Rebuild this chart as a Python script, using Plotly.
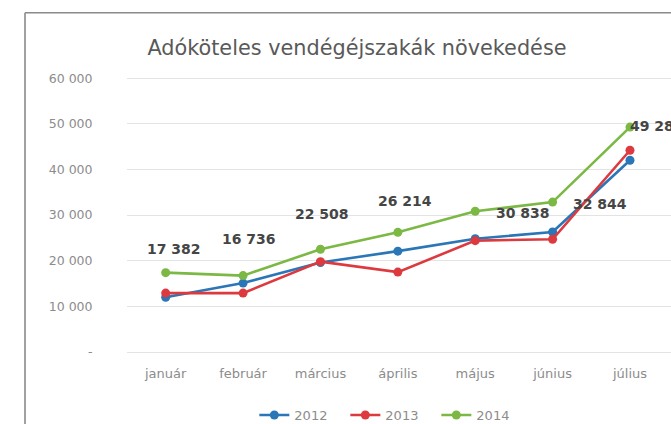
import plotly.graph_objects as go

months = ["január", "február", "március", "április", "május", "június", "július"]
y2012 = [12000, 15100, 19600, 22100, 24800, 26300, 42000]
y2013 = [12900, 12900, 19800, 17500, 24400, 24700, 44200]
y2014 = [17382, 16736, 22508, 26214, 30838, 32844, 49280]
ytick_vals = [0, 10000, 20000, 30000, 40000, 50000, 60000]
ytick_text = ["-", "10 000", "20 000", "30 000", "40 000", "50 000", "60 000"]
title_text = "Adóköteles vendégéjszakák növekedése"

# label placement styles for the 2014 data labels (pixel shifts)
lbl_xshift = [8, 6, 2, 7, 48, 47]
lbl_yshift = [24, 37, 35, 31, -2, -2]

FONT = "DejaVu Sans"
colors = {"2012": "#2a76b6", "2013": "#dc3a3e", "2014": "#7bb844"}


def fmt(v):
    return f"{v:,}".replace(",", " ")


fig = go.Figure()
for name, vals in [("2012", y2012), ("2013", y2013), ("2014", y2014)]:
    fig.add_trace(go.Scatter(
        x=months, y=vals, name=name, mode="lines+markers",
        line=dict(color=colors[name], width=2.6),
        marker=dict(color=colors[name], size=9, symbol="circle"),
    ))

# first six labels as annotations
for i, (m, v) in enumerate(zip(months[:-1], y2014[:-1])):
    fig.add_annotation(
        x=m, y=v, text=f"<b>{fmt(v)}</b>", showarrow=False,
        xanchor="center", yanchor="middle",
        xshift=lbl_xshift[i], yshift=lbl_yshift[i],
        font=dict(family=FONT, size=14, color="#454545"),
    )
# last label: text trace, clipped by the plot area like in the cropped original
fig.add_trace(go.Scatter(
    x=months[-1:], y=y2014[-1:], mode="text", text=[f"<b>{fmt(y2014[-1])}</b>"],
    textposition="middle right", cliponaxis=True, showlegend=False, hoverinfo="skip",
    textfont=dict(family=FONT, size=14, color="#454545"),
))

# outer chart frame
fig.add_shape(type="line", xref="paper", yref="paper",
              x0=-0.1875, x1=-0.1875, y0=-0.35, y1=1.2336,
              line=dict(color="#8a8a8a", width=1.6))
fig.add_shape(type="line", xref="paper", yref="paper",
              x0=-0.1875, x1=1.05, y0=1.2336, y1=1.2336,
              line=dict(color="#8a8a8a", width=1.6))

fig.update_layout(
    width=671, height=424,
    margin=dict(l=127, r=0, t=77, b=72, autoexpand=False),
    paper_bgcolor="white", plot_bgcolor="white",
    title=dict(text=title_text, x=0.532, xref="container", xanchor="center",
               y=1 - 48 / 424, yref="container", yanchor="middle",
               font=dict(family=FONT, size=20.8, color="#595959")),
    showlegend=True,
    legend=dict(orientation="h", x=0.485, xanchor="center",
                y=1 - 415 / 424, yref="container", yanchor="middle",
                entrywidth=46, entrywidthmode="pixels",
                font=dict(family=FONT, size=13, color="#8c8c8c"),
                bgcolor="rgba(0,0,0,0)"),
    xaxis=dict(type="category", range=[-0.5, 6.53], showgrid=False, showline=False,
               automargin=False,
               ticks="outside", ticklen=9, tickcolor="rgba(0,0,0,0)",
               tickfont=dict(family=FONT, size=13, color="#8c8c8c")),
    yaxis=dict(range=[0, 60250], tickvals=ytick_vals, ticktext=ytick_text,
               automargin=False,
               showgrid=True, gridcolor="#e3e3e3", gridwidth=1,
               zeroline=True, zerolinecolor="#e3e3e3", zerolinewidth=1,
               showline=False, ticks="outside", ticklen=31, tickcolor="rgba(0,0,0,0)",
               tickfont=dict(family=FONT, size=12.5, color="#8c8c8c")),
)

fig.write_html(
    "out.html",
    config={"displayModeBar": False},
    post_script="document.body.style.margin='0';document.body.style.overflow='hidden';",
)
